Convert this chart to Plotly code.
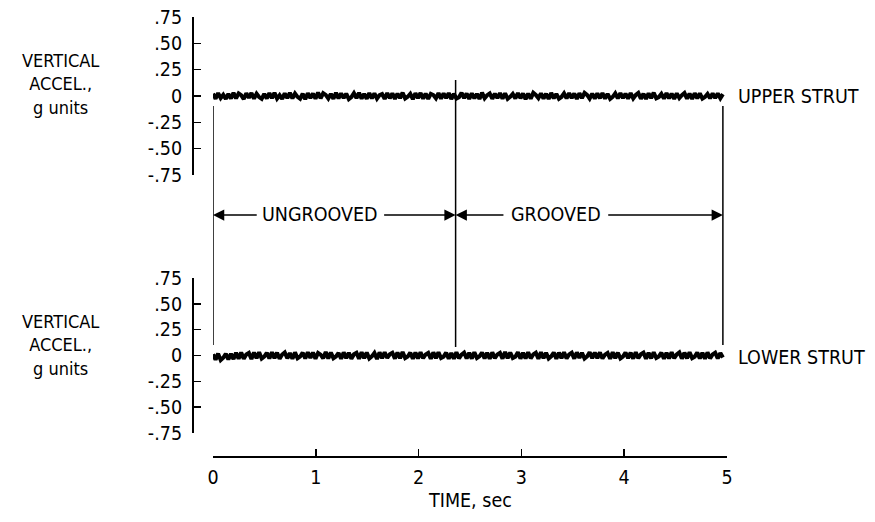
import plotly.graph_objects as go

# ---------------- data ----------------
TIME_END = 4.96          # s, end of record

UPPER_STRUT = [
    0.022,-0.026,0.028,-0.020,0.012,-0.027,0.019,-0.024,0.030,-0.022,
    0.025,0.008,-0.029,0.026,-0.018,0.028,-0.025,0.022,-0.010,-0.027,
    0.020,-0.023,0.027,-0.021,0.031,-0.025,0.007,-0.028,0.025,-0.019,
    0.029,-0.022,0.024,-0.008,-0.026,0.021,-0.030,0.027,-0.020,0.023,
    -0.025,0.032,-0.021,0.026,0.010,-0.024,0.020,-0.027,0.030,-0.023,
    0.025,-0.020,0.022,-0.029,-0.010,0.027,-0.019,0.030,-0.025,0.020,
    -0.026,0.028,-0.022,0.024,-0.025,0.008,0.019,-0.028,0.027,-0.021,
    0.025,-0.027,0.022,-0.020,0.031,-0.023,-0.007,0.021,-0.030,0.026,
    -0.020,0.029,-0.025,0.023,-0.027,0.020,0.009,-0.022,0.028,-0.025,
    0.025,-0.019,0.027,-0.029,0.021,-0.024,-0.011,0.030,-0.020,0.023,
    -0.027,0.025,-0.022,0.020,-0.028,0.032,-0.021,0.008,0.025,-0.026,
    0.022,-0.020,0.028,-0.024,0.026,-0.027,-0.008,0.019,-0.023,0.027,
    -0.021,0.024,-0.030,0.022,-0.025,0.030,0.010,-0.020,0.025,-0.025,
    0.021,-0.027,0.029,-0.022,0.020,-0.026,-0.009,0.025,-0.023,0.027,
    -0.019,0.023,-0.028,0.026,-0.020,0.030,0.011,-0.025,0.022,-0.025,
    0.024,-0.021,0.027,-0.024,0.020,-0.027,-0.008,0.025,-0.022,0.028,
    -0.020,0.022,-0.025,0.027,-0.023,0.010,0.029,-0.026,0.021,-0.028,
    0.025,-0.020,0.031,-0.022,-0.010,0.020,-0.025,0.027,-0.022,0.023,
    -0.027,0.025,-0.019,0.008,0.028,-0.024,0.022,-0.027,0.026,-0.021,
    0.024,-0.025,-0.009,0.020,-0.022,0.025,-0.020,0.023,-0.021,0.018,
]

LOWER_STRUT = [
    0.012,-0.040,0.018,-0.045,-0.022,0.016,-0.038,0.015,-0.035,0.026,
    -0.032,0.028,-0.030,0.010,0.025,-0.033,0.029,-0.027,0.031,-0.030,
    -0.011,0.026,-0.028,0.032,-0.025,0.027,-0.031,0.010,0.030,-0.027,
    0.024,-0.032,0.030,-0.026,-0.010,0.027,-0.029,0.032,-0.024,0.028,
    -0.030,0.025,0.008,-0.027,0.033,-0.028,0.029,-0.026,-0.010,0.024,
    -0.032,0.030,-0.027,0.027,-0.030,0.011,0.025,-0.031,0.031,-0.025,
    0.028,-0.029,-0.009,0.024,-0.033,0.030,-0.027,0.032,-0.024,0.012,
    0.026,-0.030,0.029,-0.027,0.034,-0.025,-0.010,0.027,-0.031,0.028,
    -0.028,0.030,-0.026,0.010,0.025,-0.032,0.030,-0.027,0.032,-0.024,
    -0.011,0.027,-0.030,0.024,-0.032,0.031,-0.027,0.009,0.028,-0.029,
    0.026,-0.030,0.032,-0.025,-0.008,0.029,-0.028,0.027,-0.031,0.030,
    -0.026,0.010,0.025,-0.030,0.033,-0.027,0.028,-0.024,-0.012,0.032,
    -0.030,0.026,-0.028,0.030,-0.027,0.010,0.027,-0.032,0.031,-0.025,
    0.025,-0.029,-0.009,0.029,-0.031,0.027,-0.026,0.032,-0.028,0.011,
    0.027,-0.030,0.030,-0.024,0.026,-0.030,-0.010,0.032,-0.027,0.028,
    -0.027,0.030,-0.029,0.008,0.025,-0.031,0.031,-0.026,0.027,-0.028,
    -0.010,0.029,-0.025,0.027,-0.030,0.032,-0.027,0.012,0.028,-0.030,
    0.026,-0.027,0.030,-0.024,-0.009,0.027,-0.030,0.025,-0.028,0.031,
    -0.026,0.010,0.029,-0.030,0.027,-0.027,0.030,-0.025,-0.011,0.028,
    -0.029,0.026,-0.031,0.030,-0.027,0.010,0.027,-0.028,0.024,-0.020,
]

SAMPLE_DT = TIME_END / (len(UPPER_STRUT) - 1)
TIME = [i * SAMPLE_DT for i in range(len(UPPER_STRUT))]

Y_TICKS = [0.75, 0.50, 0.25, 0, -0.25, -0.50, -0.75]
Y_TICK_LABELS = [".75", ".50", ".25", "0", "-.25", "-.50", "-.75"]
X_TICKS = [0, 1, 2, 3, 4, 5]
X_TICK_LABELS = ["0", "1", "2", "3", "4", "5"]
Y_TITLE_LINES = ["VERTICAL", "ACCEL.,", "g units"]

BOUNDARIES = [0, 2.36, 4.96]          # s : start, ungrooved/grooved change, end
SECTION_LABELS = ["UNGROOVED", "GROOVED"]
SECTION_CENTERS = [1.04, 3.34]
SECTION_GAPS = [(0.44, 1.65), (2.84, 3.83)]

# ---------------- layout helpers ----------------
W, H = 875, 522
FONT = "DejaVu Sans Condensed, Liberation Sans Narrow, sans-serif"
FS = 19.5
def px(x): return x / W
def py(y): return 1 - y / H

fig = go.Figure()
for vals, ya in [(UPPER_STRUT, "y"), (LOWER_STRUT, "y2")]:
    fig.add_trace(go.Scatter(x=TIME, y=vals, mode="lines",
                             line=dict(color="black", width=4, simplify=False),
                             xaxis="x", yaxis=ya, showlegend=False, hoverinfo="skip"))

yaxis_common = dict(range=[-0.75, 0.75], tickvals=Y_TICKS, ticktext=Y_TICK_LABELS,
                    showline=True, linecolor="black", linewidth=2,
                    ticks="inside", ticklen=7, tickwidth=1.5, tickcolor="black",
                    showgrid=False, zeroline=False, anchor="free",
                    position=px(193), ticklabelstandoff=6, automargin=False,
                    tickfont=dict(family=FONT, size=FS, color="black"))

fig.update_layout(
    width=W, height=H, margin=dict(l=0, r=0, t=0, b=0, autoexpand=False),
    paper_bgcolor="white", plot_bgcolor="white",
    xaxis=dict(domain=[px(213), px(727)], range=[0, 5], anchor="free",
               position=py(457), tickvals=X_TICKS, ticktext=X_TICK_LABELS,
               showline=True, linecolor="black", linewidth=2,
               ticks="inside", ticklen=7, tickwidth=1.5, tickcolor="black",
               showgrid=False, zeroline=False, ticklabelstandoff=3, automargin=False,
               tickfont=dict(family=FONT, size=FS, color="black")),
    yaxis=dict(domain=[py(175), py(17)], **yaxis_common),
    yaxis2=dict(domain=[py(433), py(278)], **yaxis_common),
)

# boundary lines
line_spans = [(106, 345), (80, 347), (106, 345)]
for b, (top, bot) in zip(BOUNDARIES, line_spans):
    fig.add_shape(type="line", xref="x", yref="paper", x0=b, x1=b,
                  y0=py(bot), y1=py(top), line=dict(color="black", width=1.5))

ARROW_Y = py(215)
for (g0, g1), start, end in zip(SECTION_GAPS, BOUNDARIES[:-1], BOUNDARIES[1:]):
    for head, tail in [(start, g0), (end, g1)]:
        fig.add_annotation(x=head, y=ARROW_Y, xref="x", yref="paper",
                           ax=tail, ay=0, axref="x", ayref="pixel",
                           text="", showarrow=True, arrowhead=2, arrowsize=1.5,
                           arrowwidth=1.5, arrowcolor="black", standoff=0)
for lbl, c in zip(SECTION_LABELS, SECTION_CENTERS):
    fig.add_annotation(x=c, y=ARROW_Y, xref="x", yref="paper", text=lbl,
                       xanchor="center", yanchor="middle",
                       showarrow=False, font=dict(family=FONT, size=FS, color="black"))

txt = dict(showarrow=False, xref="paper", yref="paper", yanchor="middle",
           font=dict(family=FONT, size=FS, color="black"))
for center in (84, 345):
    fig.add_annotation(x=px(60), y=py(center), text="<br>".join(Y_TITLE_LINES),
                       xanchor="center", align="center", showarrow=False,
                       xref="paper", yref="paper", yanchor="middle",
                       font=dict(family=FONT, size=18, color="black"))
fig.add_annotation(x=px(736), y=py(96), text="UPPER STRUT", xanchor="left", **txt)
fig.add_annotation(x=px(736), y=py(357), text="LOWER STRUT", xanchor="left", **txt)
fig.add_annotation(x=px(470), y=py(500), text="TIME, sec", xanchor="center", **txt)

fig.write_html("out.html", config={"displayModeBar": False, "staticPlot": True},
               post_script="document.body.style.margin='0';")
